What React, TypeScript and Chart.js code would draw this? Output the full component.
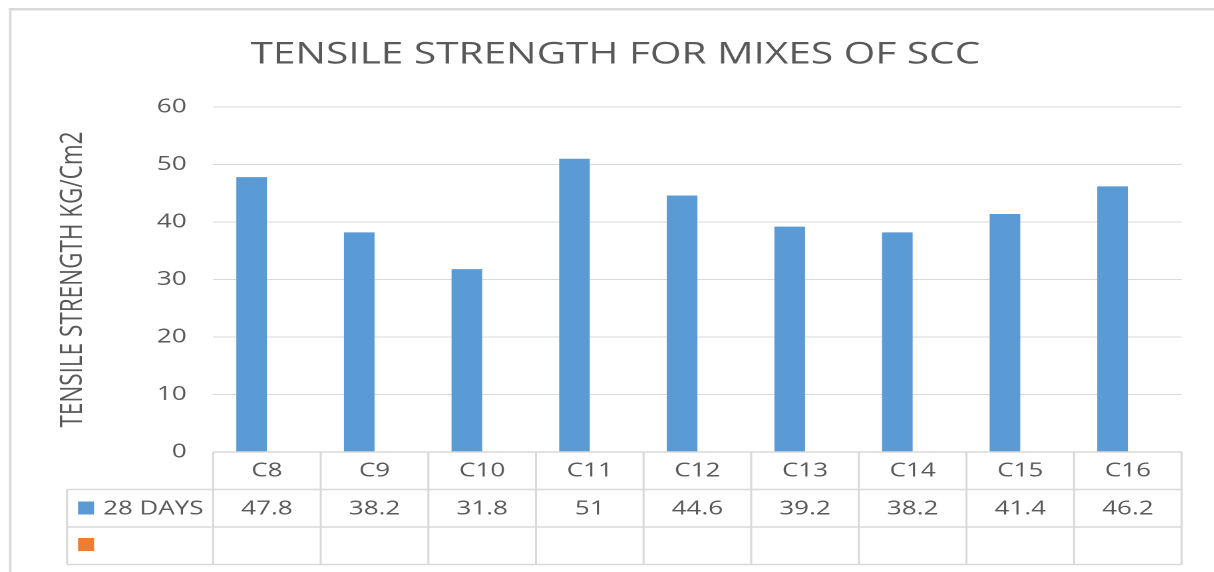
import { useEffect, useRef } from 'react';
import { Chart, registerables } from 'chart.js';

Chart.register(...registerables);

// ---- chart data ----
const chartTitle = 'TENSILE STRENGTH FOR MIXES OF SCC';
const yAxisTitle = 'TENSILE STRENGTH KG/Cm2';
const mixes = ['C8', 'C9', 'C10', 'C11', 'C12', 'C13', 'C14', 'C15', 'C16'];
const seriesName = '28 DAYS';
const days28 = [47.8, 38.2, 31.8, 51, 44.6, 39.2, 38.2, 41.4, 46.2];
const secondSeriesName = '';
const secondSeries: (number | null)[] = [null, null, null, null, null, null, null, null, null];
const yMin = 0;
const yMax = 60;
const yStep = 10;

// ---- page geometry ----
// The sheet is laid out in a narrower space and shown widened horizontally.
const PAGE_W = 1214;
const PAGE_H = 572;
const STRETCH = 1.33;
const BASE_W = PAGE_W / STRETCH;
const hx = (v: number) => v / STRETCH; // page x -> layout x

// ---- styling ----
const FONT = '"Open Sans", "DejaVu Sans", sans-serif';
const TEXT = '#595959';
const LINE = '#d9d9d9';
const BLUE = '#5B9BD5';
const ORANGE = '#ED7D31';

const sheetPlugin = {
  id: 'sheet',
  beforeDraw(chart: any) {
    const { ctx, width, height } = chart;
    ctx.save();
    ctx.fillStyle = '#ffffff';
    ctx.fillRect(0, 0, width, height);
    // outer frame (top and left edges)
    ctx.fillStyle = '#dadada';
    ctx.fillRect(hx(9), 8, width - hx(9), 2.5);
    ctx.fillRect(hx(9), 8, hx(2.5), height - 8);
    ctx.restore();
  },
  afterDraw(chart: any) {
    const { ctx, chartArea } = chart;
    const xScale = chart.scales.x;
    const n = mixes.length;
    const colW = (chartArea.right - chartArea.left) / n;
    const top = chartArea.bottom;
    const rowH = 37.5;
    const r1 = top + rowH;
    const r2 = r1 + rowH;
    const r3 = r2 + rowH;
    const keyLeft = hx(67);

    ctx.save();
    // chart title
    ctx.fillStyle = TEXT;
    ctx.font = `30.5px ${FONT}`;
    ctx.textAlign = 'center';
    ctx.textBaseline = 'alphabetic';
    ctx.fillText(chartTitle, hx(615), 63.5);

    // data table grid
    ctx.strokeStyle = LINE;
    ctx.lineWidth = 1.5;
    ctx.beginPath();
    ctx.moveTo(chartArea.left, top);
    ctx.lineTo(chartArea.right, top);
    for (const y of [r1, r2, r3]) {
      ctx.moveTo(keyLeft, y);
      ctx.lineTo(chartArea.right, y);
    }
    for (let i = 0; i <= n; i++) {
      const x = chartArea.left + i * colW;
      ctx.moveTo(x, top);
      ctx.lineTo(x, r3);
    }
    ctx.moveTo(keyLeft, r1);
    ctx.lineTo(keyLeft, r3);
    ctx.stroke();

    // table text
    ctx.font = `19.5px ${FONT}`;
    ctx.fillStyle = TEXT;
    ctx.textAlign = 'center';
    mixes.forEach((m, i) => {
      const cx = xScale.getPixelForValue(i);
      ctx.fillText(m, cx, top + 24.5);
      ctx.fillText(String(days28[i]), cx, r1 + 25);
      const v = secondSeries[i];
      if (v !== null) ctx.fillText(String(v), cx, r2 + 25);
    });

    // legend keys
    ctx.fillStyle = BLUE;
    ctx.fillRect(hx(78), r1 + 12, hx(16), 13);
    ctx.fillStyle = ORANGE;
    ctx.fillRect(hx(78), r2 + 11, hx(16), 13);
    ctx.fillStyle = TEXT;
    ctx.textAlign = 'left';
    ctx.fillText(seriesName, hx(103), r1 + 25);
    ctx.fillText(secondSeriesName, hx(103), r2 + 25);
    ctx.restore();
  },
};

export default function App() {
  const canvasRef = useRef<HTMLCanvasElement>(null);

  useEffect(() => {
    const canvas = canvasRef.current;
    if (!canvas) return;
    const chart = new Chart(canvas, {
      type: 'bar',
      data: {
        labels: mixes,
        datasets: [
          { label: seriesName, data: days28, backgroundColor: BLUE, borderWidth: 0 },
          { label: secondSeriesName, data: secondSeries, backgroundColor: ORANGE, borderWidth: 0 },
        ],
      },
      options: {
        animation: false,
        responsive: true,
        maintainAspectRatio: false,
        devicePixelRatio: 2,
        events: [],
        layout: { padding: { left: 0, right: hx(PAGE_W - 1181), top: 107, bottom: 120 } },
        datasets: { bar: { categoryPercentage: 0.569, barPercentage: 1 } },
        plugins: {
          legend: { display: false },
          tooltip: { enabled: false },
          title: { display: false },
        },
        scales: {
          x: { display: false },
          y: {
            min: yMin,
            max: yMax,
            afterFit: (scale: any) => {
              scale.width = hx(213);
            },
            border: { display: false },
            grid: { color: LINE, lineWidth: 1, drawTicks: false },
            ticks: {
              stepSize: yStep,
              padding: hx(26.5),
              color: TEXT,
              font: { family: FONT, size: 19.5 },
            },
            title: {
              display: true,
              text: yAxisTitle,
              color: TEXT,
              font: { family: FONT, size: 22.5 },
              padding: { top: hx(73) - 13.5, bottom: 0 },
            },
          },
        },
      },
      plugins: [sheetPlugin],
    });
    return () => chart.destroy();
  }, []);

  return (
    <div
      style={{
        position: 'absolute',
        left: 0,
        top: 0,
        width: BASE_W,
        height: PAGE_H,
        transform: `scaleX(${STRETCH})`,
        transformOrigin: '0 0',
      }}
    >
      <canvas ref={canvasRef} />
    </div>
  );
}
